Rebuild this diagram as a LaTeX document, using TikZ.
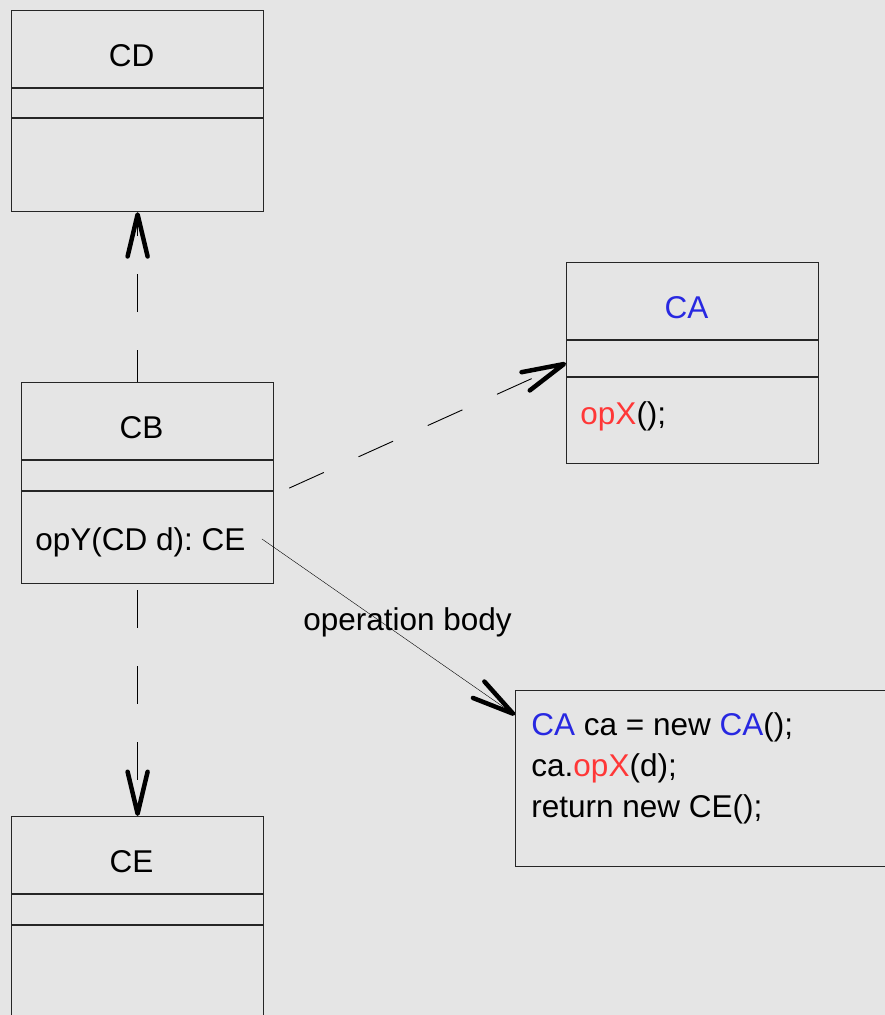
\documentclass[tikz,border=0pt]{standalone}
\usepackage{fontspec}
\setmainfont{Liberation Sans}
\frenchspacing
\newcommand{\classbox}[4]{%
  \node[classbox] (#1) at (#2) {};
  \draw[divider] ([yshift=-78pt]#1.north west) -- ([yshift=-78pt]#1.north east);
  \draw[divider] ([yshift=-#4]#1.north west) -- ([yshift=-#4]#1.north east);
  \node[classname] (#1name) at ([xshift=-6pt, yshift=-56pt]#1.north) {#3};
}
\usetikzlibrary{
  arrows.meta,
  calc,
  positioning
}
\definecolor{bggray}{RGB}{229,229,229}
\definecolor{umlblue}{RGB}{40,40,225}
\definecolor{umlred}{RGB}{255,55,55}

\begin{document}
\begin{tikzpicture}[x=1pt, y=-1pt]

\tikzset{
  classbox/.style={
    draw=black!85,
    line width=1.2pt,
    minimum width=252pt,
    minimum height=201pt,
    anchor=north west,
    inner sep=0pt
  },
  divider/.style={draw=black!85, line width=1.2pt},
  classname/.style={
    anchor=base,
    inner sep=0pt,
    font=\fontsize{31.5pt}{41pt}\selectfont
  },
  optext/.style={
    anchor=base west,
    inner sep=0pt,
    align=left,
    font=\fontsize{31.5pt}{41pt}\selectfont
  },
  notebox/.style={
    draw=black!85,
    line width=1.2pt,
    minimum width=380pt,
    minimum height=176pt,
    anchor=north west,
    inner sep=0pt
  },
  depend/.style={->, dash pattern=on 38pt off 38pt, line width=0.9pt},
  >={Straight Barb[length=42pt, width=20pt, line width=4.5pt, round]},
  line width=0.9pt
}

% BACKGROUND -----------------------------------------------------

\path[fill=bggray, use as bounding box] (0,0) rectangle (885,1015);
\clip (0,0) rectangle (885,1015);

% NODES ----------------------------------------------------------

% Classes
\classbox{cd}{11,10}{CD}{108pt}
\classbox{ca}{566,262}{\textcolor{umlblue}{CA}}{115pt}
\classbox{cb}{21,382}{CB}{109pt}
\classbox{ce}{11,816}{CE}{109pt}

% Operations
\node[optext] (caop) at (580,424) {\textcolor{umlred}{opX}();};
\node[optext] (cbop) at (35,550) {opY(CD d): CE};

% Note with the operation body
\node[notebox] (note) at (515,690) {};
\node[optext] (notetext) at (531,735)
  {\textcolor{umlblue}{CA} ca = new \textcolor{umlblue}{CA}();};
\node[optext] (notetext2) at (531,776) {ca.\textcolor{umlred}{opX}(d);};
\node[optext] (notetext3) at (531,817) {return new CE();};

% DRAWS ---------------------------------------------------------

% Dependencies
\draw[depend, dash phase=6pt] (cd.south |- cb.north) -- (cd.south);
\draw[depend] ($(cb.east)+(15,5)$) -- (ca.west);
\draw[depend, shorten <=6pt] (ce.north |- cb.south) -- (ce.north);

% Operation body
\draw[->] ($(cbop.base east)+(16,-11)$) --
  node[pos=0.5, xshift=19pt, yshift=4.5pt, font=\fontsize{31.5pt}{41pt}\selectfont, inner sep=0pt] (opbody) {operation body}
  ($(note.north west)+(0,25)$);

\end{tikzpicture}
\end{document}
